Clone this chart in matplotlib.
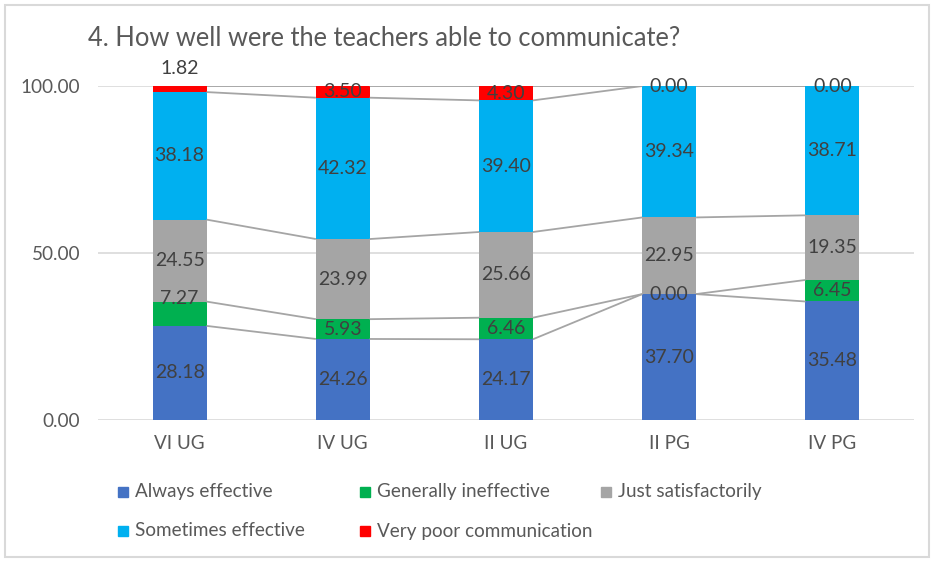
import matplotlib
matplotlib.use("Agg")
import matplotlib.pyplot as plt
from matplotlib.patches import Rectangle
import numpy as np

plt.rcParams['font.family'] = ['Lato', 'DejaVu Sans']

categories = ["VI UG", "IV UG", "II UG", "II PG", "IV PG"]
series_names = ["Always effective", "Generally ineffective", "Just satisfactorily",
                "Sometimes effective", "Very poor communication"]
always = [28.18, 24.26, 24.17, 37.70, 35.48]
generally = [7.27, 5.93, 6.46, 0.00, 6.45]
just = [24.55, 23.99, 25.66, 22.95, 19.35]
sometimes = [38.18, 42.32, 39.40, 39.34, 38.71]
verypoor = [1.82, 3.50, 4.30, 0.00, 0.00]
colors = ["#4472C4", "#00B050", "#A5A5A5", "#00B0F0", "#FF0000"]

data = [always, generally, just, sometimes, verypoor]
# label offsets (data units) for manually-moved labels: (series, category) -> dy
label_dy = {(1, 0): 4.5, (4, 0): 6.2}

W, H = 934, 562
fig = plt.figure(figsize=(W / 100, H / 100), dpi=100)
ax = fig.add_axes([98 / W, 1 - 420 / H, (914 - 98) / W, (420 - 86) / H])

x = np.arange(len(categories))
bw = 0.33
bottom = np.zeros(len(categories))
tops = []
for si, (vals, col) in enumerate(zip(data, colors)):
    vals = np.array(vals)
    ax.bar(x, vals, bw, bottom=bottom, color=col, zorder=3)
    for ci in range(len(categories)):
        cy = bottom[ci] + vals[ci] / 2 + label_dy.get((si, ci), 0)
        ax.text(x[ci], cy, f"{vals[ci]:.2f}", ha='center', va='center',
                fontsize=14, color="#404040", zorder=5, clip_on=False)
    bottom = bottom + vals
    tops.append(bottom.copy())

# series lines
for t in tops:
    for ci in range(len(categories) - 1):
        ax.plot([x[ci] + bw / 2, x[ci + 1] - bw / 2], [t[ci], t[ci + 1]],
                color="#A5A5A5", lw=1.3, zorder=4, solid_capstyle='butt')

ax.set_xlim(-0.5, len(categories) - 0.5)
ax.set_ylim(0, 100)
ax.set_yticks([0, 50, 100])
ax.set_yticklabels([f"{v:.2f}" for v in [0, 50, 100]])
ax.set_xticks(x)
ax.set_xticklabels(categories)
ax.tick_params(axis='both', length=0, labelsize=13.6, labelcolor="#595959")
ax.tick_params(axis='y', pad=13)
ax.tick_params(axis='x', pad=11)
ax.yaxis.grid(True, color="#D9D9D9", lw=1.2, zorder=0)
for s in ax.spines.values():
    s.set_visible(False)

fig.text(88 / W, 1 - 38 / H, "4. How well were the teachers able to communicate?",
         fontsize=18.4, color="#595959", ha='left', va='center')

# legend (Excel-style equal columns)
leg_pos = [(118, 492), (360, 492), (601, 492), (118, 531), (360, 531)]
for (lx, ly), name, col in zip(leg_pos, series_names, colors):
    fig.add_artist(Rectangle((lx / W, 1 - (ly + 5) / H), 10 / W, 10 / H,
                             transform=fig.transFigure, color=col))
    fig.text((lx + 17) / W, 1 - ly / H, name, fontsize=13.6, color="#595959",
             ha='left', va='center')

fig.add_artist(Rectangle((5 / W, 5 / H), (W - 10) / W, (H - 10) / H,
                         transform=fig.transFigure, fill=False,
                         edgecolor="#D9D9D9", lw=1.5))

fig.savefig("out.png", dpi=100)
